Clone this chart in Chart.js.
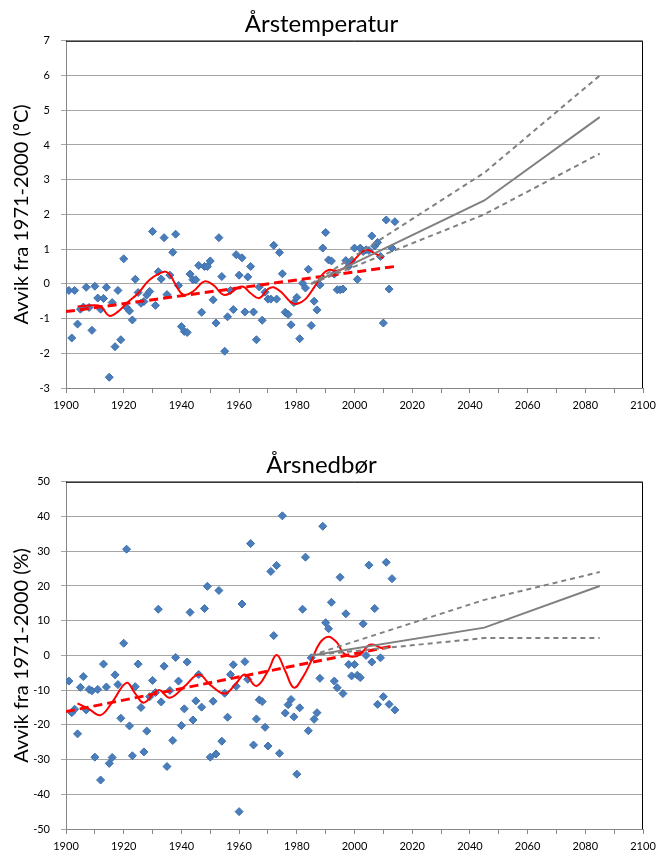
<!DOCTYPE html>
<html>
<head>
<meta charset="utf-8">
<script src="https://cdn.jsdelivr.net/npm/chart.js@4.4.1/dist/chart.umd.min.js"></script>
<style>
  body { margin: 0; background: #fff; }
  #page { position: relative; width: 668px; height: 857px; overflow: hidden; }
  .box { position: absolute; left: 0; width: 668px; height: 428px; }
</style>
</head>
<body>
<div id="page">
  <div class="box" style="top:0"><canvas id="tempChart" width="668" height="428"></canvas></div>
  <div class="box" style="top:441px"><canvas id="precChart" width="668" height="428"></canvas></div>
</div>
<script>
const years = [
  1901, 1902, 1903, 1904, 1905, 1906, 1907, 1908, 1909, 1910,
  1911, 1912, 1913, 1914, 1915, 1916, 1917, 1918, 1919, 1920,
  1921, 1922, 1923, 1924, 1925, 1926, 1927, 1928, 1929, 1930,
  1931, 1932, 1933, 1934, 1935, 1936, 1937, 1938, 1939, 1940,
  1941, 1942, 1943, 1944, 1945, 1946, 1947, 1948, 1949, 1950,
  1951, 1952, 1953, 1954, 1955, 1956, 1957, 1958, 1959, 1960,
  1961, 1962, 1963, 1964, 1965, 1966, 1967, 1968, 1969, 1970,
  1971, 1972, 1973, 1974, 1975, 1976, 1977, 1978, 1979, 1980,
  1981, 1982, 1983, 1984, 1985, 1986, 1987, 1988, 1989, 1990,
  1991, 1992, 1993, 1994, 1995, 1996, 1997, 1998, 1999, 2000,
  2001, 2002, 2003, 2004, 2005, 2006, 2007, 2008, 2009, 2010,
  2011, 2012, 2013, 2014
];

// Årstemperatur, avvik i ºC
const tempValues = [
  -0.19, -1.56, -0.19, -1.16, -0.73, -0.67, -0.10, -0.68, -1.34, -0.07,
  -0.41, -0.73, -0.42, -0.10, -2.69, -0.54, -1.81, -0.19, -1.61, 0.72,
  -0.68, -0.78, -1.04, 0.13, -0.25, -0.56, -0.51, -0.32, -0.22, 1.51,
  -0.62, 0.35, 0.14, 1.33, -0.31, 0.25, 0.91, 1.43, -0.05, -1.23,
  -1.37, -1.40, 0.28, 0.12, 0.12, 0.53, -0.82, 0.50, 0.50, 0.66,
  -0.46, -1.13, 1.33, 0.21, -1.94, -0.95, -0.19, -0.74, 0.84, 0.25,
  0.75, -0.81, 0.20, 0.50, -0.81, -1.61, -0.09, -1.05, -0.24, -0.44,
  -0.44, 1.11, -0.44, 0.90, 0.29, -0.82, -0.88, -1.18, -0.54, -0.39,
  -1.58, 0.02, -0.12, 0.42, -1.20, -0.50, -0.75, -0.03, 1.03, 1.48,
  0.69, 0.66, 0.28, -0.17, -0.17, -0.15, 0.67, 0.50, 0.67, 1.03,
  0.13, 1.03, 0.93, 0.98, 0.96, 1.38, 1.09, 1.19, 0.79, -1.13,
  1.84, -0.15, 1.03, 1.79
];

const tempSmoothYears = [1904, 1909, 1912, 1915, 1918, 1921, 1925, 1929, 1934, 1936, 1939, 1941, 1944, 1948, 1951, 1955, 1961, 1964, 1967, 1970, 1972, 1975, 1978, 1980, 1983, 1986, 1989, 1991, 1994, 1998, 2001, 2004, 2007, 2010];
const tempSmooth = [-0.65, -0.62, -0.65, -0.92, -0.80, -0.56, -0.27, 0.12, 0.35, 0.26, -0.17, -0.32, -0.22, 0.07, -0.03, -0.32, -0.08, -0.27, -0.41, -0.15, -0.10, -0.27, -0.53, -0.58, -0.44, -0.10, 0.28, 0.40, 0.38, 0.52, 0.79, 0.98, 0.88, 0.74];

const trendYears = [1900, 2014];
const tempTrend = [-0.80, 0.50];

const projYears = [1985, 2045, 2085];
const tempProjMid = [0.0, 2.4, 4.8];
const tempProjHigh = [0.0, 3.2, 6.0];
const tempProjLow = [0.0, 2.0, 3.75];

// Årsnedbør, avvik i %
const precValues = [
  -7.4, -16.5, -15.5, -22.6, -9.2, -6.1, -15.7, -9.8, -10.2, -29.3,
  -9.8, -35.9, -2.5, -9.1, -31.1, -29.4, -5.6, -8.4, -18.1, 3.5,
  30.6, -20.3, -28.9, -9.0, -2.5, -15.0, -27.8, -21.8, -11.9, -7.2,
  -10.7, 13.3, -13.4, -3.1, -32.0, -10.1, -24.5, -0.6, -7.4, -20.2,
  -15.4, -1.9, 12.4, -18.6, -13.1, -5.5, -14.9, 13.5, 19.9, -29.3,
  -13.2, -28.4, 18.7, -24.7, -10.9, -17.8, -5.5, -2.7, -8.9, -45.0,
  14.8, -1.8, -6.9, 32.2, -25.8, -18.3, -12.8, -13.3, -20.7, -26.1,
  24.2, 5.7, 25.9, -28.2, 40.2, -16.6, -14.2, -12.7, -17.7, -34.2,
  -15.1, 13.3, 28.3, -21.7, -0.7, -18.4, -16.5, -6.6, 37.2, 9.4,
  7.7, 15.3, -7.4, -9.3, 22.5, -11.0, 12.0, -2.6, -5.9, -2.6,
  -5.7, -6.4, 9.1, 0.0, 26.0, -1.9, 13.5, -14.1, -0.7, -11.9,
  26.8, -14.1, 22.1, -15.7
];

const precSmoothYears = [1904, 1908, 1912, 1916, 1921, 1924, 1927, 1932, 1936, 1941, 1946, 1950, 1955, 1959, 1962, 1966, 1970, 1973, 1976, 1979, 1982, 1985, 1988, 1991, 1994, 1996, 1999, 2002, 2005, 2007, 2009, 2011];
const precSmooth = [-13.8, -15.5, -17.2, -13.5, -7.9, -11.0, -13.6, -10.0, -12.2, -9.0, -5.5, -8.5, -11.0, -8.0, -5.5, -8.8, -4.5, 0.1, -4.5, -9.3, -6.4, -1.6, 3.6, 5.4, 3.6, 0.8, -0.4, 0.3, 3.0, 3.0, 2.2, 2.0];

const precTrend = [-16.2, 2.8];

const precProjMid = [0.0, 8.0, 20.0];
const precProjHigh = [0.0, 16.0, 24.0];
const precProjLow = [0.0, 5.0, 5.0];

const FONT = "Lato, 'Liberation Sans', sans-serif";

function pairs(xs, ys) {
  return xs.map((x, i) => ({ x, y: ys[i] }));
}

const plotFrame = {
  id: "plotFrame",
  beforeDatasetsDraw(chart) {
    const { ctx, chartArea } = chart;
    ctx.save();
    ctx.strokeStyle = "#000";
    ctx.lineWidth = 1;
    ctx.beginPath();
    ctx.moveTo(chartArea.left, chartArea.top + 0.5);
    ctx.lineTo(chartArea.right - 0.5, chartArea.top + 0.5);
    ctx.lineTo(chartArea.right - 0.5, chartArea.bottom);
    ctx.stroke();
    ctx.restore();
  }
};

function drawClimateChart(id, opts) {
  const canvas = document.getElementById(id);
  if (!canvas || !window.Chart) return;

  return new Chart(canvas, {
    type: "scatter",
    data: {
      datasets: [
        {
          data: pairs(years, opts.values),
          pointStyle: "rectRot",
          pointRadius: 4,
          backgroundColor: "#4a7ebb",
          borderColor: "#3d6fae",
          borderWidth: 1,
          order: 10
        },
        {
          type: "line",
          data: pairs(opts.smoothYears, opts.smooth),
          borderColor: "#ff0000",
          borderWidth: 2,
          tension: 0.4,
          pointRadius: 0,
          fill: false,
          order: 3
        },
        {
          type: "line",
          data: pairs(trendYears, opts.trend),
          borderColor: "#ff0000",
          borderWidth: 3,
          borderDash: [9, 5],
          pointRadius: 0,
          fill: false,
          order: 2
        },
        {
          type: "line",
          data: pairs(projYears, opts.projMid),
          borderColor: "#808080",
          borderWidth: 2,
          pointRadius: 0,
          fill: false,
          order: 1
        },
        {
          type: "line",
          data: pairs(projYears, opts.projHigh),
          borderColor: "#808080",
          borderWidth: 2,
          borderDash: [5, 4],
          pointRadius: 0,
          fill: false,
          order: 1
        },
        {
          type: "line",
          data: pairs(projYears, opts.projLow),
          borderColor: "#808080",
          borderWidth: 2,
          borderDash: [5, 4],
          pointRadius: 0,
          fill: false,
          order: 1
        }
      ]
    },
    options: {
      responsive: false,
      animation: false,
      events: [],
      layout: { padding: { top: 0, right: 25, left: 0, bottom: 0 } },
      plugins: {
        legend: { display: false },
        tooltip: { enabled: false },
        title: {
          display: true,
          text: opts.title,
          color: "#000",
          font: { family: FONT, size: 24, weight: "normal" },
          padding: { top: 10, bottom: 2 }
        }
      },
      scales: {
        x: {
          type: "linear",
          min: 1900,
          max: 2100,
          afterFit(scale) { scale.height = 40; },
          ticks: {
            stepSize: 10,
            autoSkip: false,
            maxRotation: 0,
            padding: 6,
            color: "#000",
            font: { family: FONT, size: 11 },
            callback: v => (v % 20 === 0 ? String(v) : "")
          },
          grid: {
            drawOnChartArea: false,
            tickLength: 5,
            color: "#868686"
          },
          border: { color: "#868686", width: 1 }
        },
        y: {
          min: opts.yMin,
          max: opts.yMax,
          afterFit(scale) { scale.width = 66; },
          ticks: {
            stepSize: opts.yStep,
            padding: 11,
            color: "#000",
            font: { family: FONT, size: 11 }
          },
          grid: {
            color: "#a6a6a6",
            lineWidth: 1,
            tickLength: 5
          },
          border: { color: "#868686", width: 1 },
          title: {
            display: true,
            text: opts.yTitle,
            color: "#000",
            font: { family: FONT, size: 20, weight: "normal" },
            padding: { top: 10, bottom: 0 }
          }
        }
      }
    },
    plugins: [plotFrame]
  });
}

drawClimateChart("tempChart", {
  title: "Årstemperatur",
  yTitle: "Avvik fra 1971-2000 (ºC)",
  yMin: -3, yMax: 7, yStep: 1,
  values: tempValues,
  smoothYears: tempSmoothYears, smooth: tempSmooth,
  trend: tempTrend,
  projMid: tempProjMid, projHigh: tempProjHigh, projLow: tempProjLow
});

drawClimateChart("precChart", {
  title: "Årsnedbør",
  yTitle: "Avvik fra 1971-2000 (%)",
  yMin: -50, yMax: 50, yStep: 10,
  values: precValues,
  smoothYears: precSmoothYears, smooth: precSmooth,
  trend: precTrend,
  projMid: precProjMid, projHigh: precProjHigh, projLow: precProjLow
});
</script>
</body>
</html>
